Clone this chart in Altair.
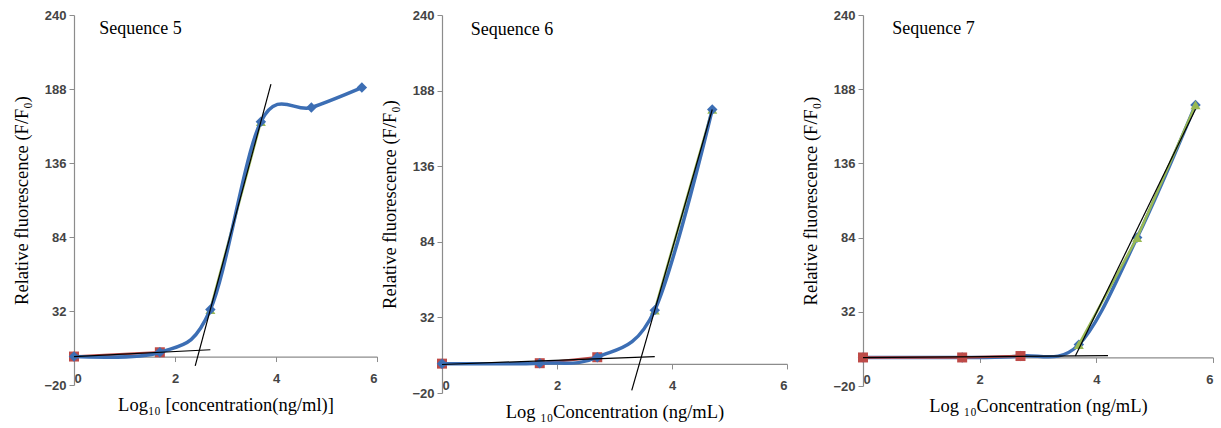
import altair as alt
import pandas as pd

# Shared axis layout
X_TICKS = [0, 2, 4, 6]
Y_TICKS = [-20, 32, 84, 136, 188, 240]
Y_MIN, Y_MAX = -20, 240
Y_TITLE = "Relative fluorescence  (F/F₀)"

# Sequence 5: log10 concentration vs F/F0
seq5_blue_x = [0, 1.7, 2.7, 3.7, 4.7, 5.7]
seq5_blue_y = [0, 3, 33, 165, 175, 189]
seq5_red_x = [0, 1.7]
seq5_red_y = [0, 3]
seq5_green_x = [2.7, 3.7]
seq5_green_y = [33, 165]
seq5_flat_span = [0, 2.7]
seq5_steep_span = [2.4, 3.9]

# Sequence 6
seq6_blue_x = [0, 1.7, 2.7, 3.7, 4.7]
seq6_blue_y = [0.2, 0.5, 4.6, 37, 175]
seq6_red_x = [0, 1.7, 2.7]
seq6_red_y = [0.2, 0.5, 4.6]
seq6_green_x = [3.7, 4.7]
seq6_green_y = [37, 175]
seq6_flat_span = [0, 3.7]
seq6_steep_span = [3.3, 4.7]

# Sequence 7
seq7_blue_x = [0, 1.7, 2.7, 3.7, 4.7, 5.7]
seq7_blue_y = [0, 0, 1, 9, 84, 177]
seq7_red_x = [0, 1.7, 2.7]
seq7_red_y = [0, 0, 1]
seq7_green_x = [3.7, 4.7, 5.7]
seq7_green_y = [9, 84, 177]
seq7_flat_span = [0, 4.2]
seq7_steep_span = [3.64, 5.7]

BLUE = "#3c6eb4"
RED = "#be4b48"
GREEN = "#98b954"
SERIF = "Liberation Serif"


def panel(bx, by, rx, ry, gx, gy, flat_span, steep_span, label, x_title,
          width, height, blue_last):
    blue = pd.DataFrame({"x": bx, "y": by})
    red = pd.DataFrame({"x": rx, "y": ry})
    green = pd.DataFrame({"x": gx, "y": gy})

    # the horizontal axis crosses the vertical one at y = 0
    zero_offset = -height * (0 - Y_MIN) / (Y_MAX - Y_MIN)

    x_enc = alt.X(
        "x:Q",
        scale=alt.Scale(domain=[0, 6], nice=False, zero=False),
        axis=alt.Axis(values=X_TICKS, format="d", title=x_title,
                      offset=zero_offset, tickSize=5, labelPadding=11,
                      titlePadding=10),
    )
    y_enc = alt.Y(
        "y:Q",
        scale=alt.Scale(domain=[Y_MIN, Y_MAX], nice=False, zero=False),
        axis=alt.Axis(values=Y_TICKS, format="d", title=Y_TITLE, tickSize=5,
                      labelPadding=3, titlePadding=12),
    )

    def series(df, color, stroke, shape, size, interp):
        line = alt.Chart(df).mark_line(
            color=color, strokeWidth=stroke, interpolate=interp
        ).encode(x=x_enc, y=y_enc)
        pts = alt.Chart(df).mark_point(
            shape=shape, filled=True, size=size, color=color, opacity=1
        ).encode(x=x_enc, y=y_enc)
        return [line, pts]

    blue_layers = series(blue, BLUE, 3.5, "diamond", 110, "cardinal")
    red_layers = series(red, RED, 2.5, "square", 100, "linear")
    green_layers = series(green, GREEN, 2.5, "triangle-up", 100, "linear")

    if blue_last:
        layers = red_layers + green_layers + blue_layers
    else:
        layers = blue_layers + red_layers + green_layers

    flat = alt.Chart(red).transform_regression(
        "x", "y", extent=flat_span
    ).mark_line(color="black", strokeWidth=1.2).encode(x=x_enc, y=y_enc)
    steep = alt.Chart(green).transform_regression(
        "x", "y", extent=steep_span
    ).mark_line(color="black", strokeWidth=1.2).encode(x=x_enc, y=y_enc)

    name = alt.Chart(pd.DataFrame({"t": [label]})).mark_text(
        align="left", baseline="middle", font=SERIF, fontSize=18, color="black"
    ).encode(x=alt.datum(0.5), y=alt.datum(230), text="t:N")

    return alt.layer(*layers, flat, steep, name).properties(
        width=width, height=height
    )


p5 = panel(seq5_blue_x, seq5_blue_y, seq5_red_x, seq5_red_y,
           seq5_green_x, seq5_green_y, seq5_flat_span, seq5_steep_span,
           "Sequence 5", "Log₁₀ [concentration(ng/ml)]", 303, 370, True)
p6 = panel(seq6_blue_x, seq6_blue_y, seq6_red_x, seq6_red_y,
           seq6_green_x, seq6_green_y, seq6_flat_span, seq6_steep_span,
           "Sequence 6", "Log ₁₀Concentration (ng/mL)", 345, 378, True)
p7 = panel(seq7_blue_x, seq7_blue_y, seq7_red_x, seq7_red_y,
           seq7_green_x, seq7_green_y, seq7_flat_span, seq7_steep_span,
           "Sequence 7", "Log ₁₀Concentration (ng/mL)", 350, 371, False)

chart = alt.hconcat(
    alt.hconcat(p5, p6, spacing=2), p7, spacing=13
).properties(
    padding={"left": 12, "top": 9, "right": 4, "bottom": 4}
).configure_view(
    stroke=None
).configure_axis(
    grid=False,
    domainColor="#8c8c8c",
    tickColor="#8c8c8c",
    domainWidth=1.2,
    labelFont="Liberation Sans",
    labelFontSize=13,
    labelFontWeight="bold",
    labelColor="#444444",
    titleFont=SERIF,
    titleFontSize=18.5,
    titleFontWeight="normal",
    titleColor="black",
)

chart.save("out.html", embed_options={"renderer": "svg", "actions": False})
